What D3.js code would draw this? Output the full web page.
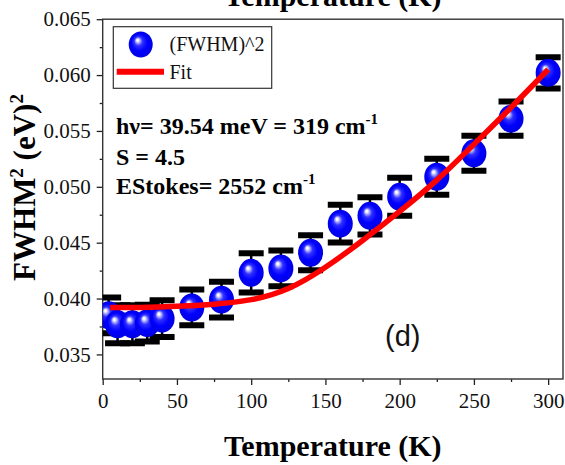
<!DOCTYPE html>
<html>
<head>
<meta charset="utf-8">
<script src="https://cdn.jsdelivr.net/npm/d3@7"></script>
<style>
  html, body { margin: 0; padding: 0; background: #fff; }
  svg { display: block; }
</style>
</head>
<body>
<div id="chart"></div>
<script>
// measured points: temperature (K), FWHM^2 (eV^2) and error bar half-height
const temps = [4, 10, 20, 30, 40, 60, 80, 100, 120, 140, 160, 180, 200, 225, 250, 275, 300];
const fwhm2 = [0.0385, 0.0377, 0.0377, 0.0378, 0.0382, 0.0392, 0.0399, 0.0423, 0.0427, 0.0441, 0.0467, 0.0474, 0.0491, 0.0509, 0.0530, 0.0561, 0.0602];
const fwhm2Err = [0.0016, 0.0017, 0.0017, 0.00165, 0.00165, 0.0016, 0.0016, 0.00175, 0.0016, 0.00157, 0.00169, 0.00166, 0.0017, 0.0016, 0.00156, 0.00153, 0.0014];

// fit curve
const fitTemps = [5, 25, 50, 75, 100, 125, 150, 175, 200, 225, 250, 275, 300];
const fitValues = [0.0392, 0.0392, 0.0393, 0.0395, 0.0399, 0.0409, 0.0428, 0.0452, 0.0478, 0.0506, 0.0538, 0.0571, 0.0605];

const xTicks = [0, 50, 100, 150, 200, 250, 300];
const yTicks = [0.035, 0.040, 0.045, 0.050, 0.055, 0.060, 0.065];

const legendLabels = ['(FWHM)^2', 'Fit'];
const annotations = [
  {text: 'h\u03bd= 39.54 meV = 319 cm', sup: '-1'},
  {text: 'S = 4.5', sup: ''},
  {text: 'EStokes= 2552 cm', sup: '-1'}
];
const panelLabel = '(d)';
const xTitle = 'Temperature (K)';

const width = 565, height = 465;
const margin = {top: 19.2, right: 2, bottom: 86, left: 102.7};
const serif = '"Liberation Serif", "Times New Roman", serif';

const svg = d3.select('#chart').append('svg')
  .attr('width', width)
  .attr('height', height);

const defs = svg.append('defs');
const grad = defs.append('radialGradient')
  .attr('id', 'ball')
  .attr('cx', '50%').attr('cy', '50%').attr('r', '55%')
  .attr('fx', '36%').attr('fy', '32%');
[[0, '#ffffff'], [0.08, '#f4f4ff'], [0.18, '#a0a0ff'], [0.32, '#3030ff'], [0.6, '#0000ff'], [1, '#0000dd']]
  .forEach(([o, c]) => grad.append('stop').attr('offset', o).attr('stop-color', c));

defs.append('clipPath').attr('id', 'plotclip')
  .append('rect')
  .attr('x', margin.left).attr('y', margin.top)
  .attr('width', width - margin.left - margin.right)
  .attr('height', height - margin.top - margin.bottom);

const x = d3.scaleLinear().domain([0, 310]).range([margin.left, width - margin.right]);
const y = d3.scaleLinear().domain([0.0328, 0.065]).range([height - margin.bottom, margin.top]);

// minor ticks
const xMinor = d3.range(25, 310, 50);
const yMinor = d3.range(0.0375, 0.065, 0.005);

svg.append('g')
  .attr('transform', `translate(0,${height - margin.bottom})`)
  .call(d3.axisBottom(x).tickValues(xMinor).tickSize(3).tickFormat(''))
  .call(g => g.select('.domain').remove());
svg.append('g')
  .attr('transform', `translate(${margin.left},0)`)
  .call(d3.axisLeft(y).tickValues(yMinor).tickSize(3).tickFormat(''))
  .call(g => g.select('.domain').remove());

const xAxis = svg.append('g')
  .attr('transform', `translate(0,${height - margin.bottom})`)
  .call(d3.axisBottom(x).tickValues(xTicks).tickSize(6).tickPadding(8).tickFormat(d3.format('d')));
xAxis.select('.domain').remove();

const yAxis = svg.append('g')
  .attr('transform', `translate(${margin.left},0)`)
  .call(d3.axisLeft(y).tickValues(yTicks).tickSize(6).tickPadding(6).tickFormat(d3.format('.3f')));
yAxis.select('.domain').remove();

svg.selectAll('.tick line').attr('stroke', '#222').attr('stroke-width', 1.3);
svg.selectAll('.tick text')
  .style('font-family', serif)
  .style('font-size', '21px')
  .attr('fill', '#111');

// frame
svg.append('rect')
  .attr('x', margin.left).attr('y', margin.top)
  .attr('width', width - margin.left - margin.right)
  .attr('height', height - margin.top - margin.bottom)
  .attr('fill', 'none')
  .attr('stroke', '#333')
  .attr('stroke-width', 1.4);

const points = temps.map((t, i) => ({t, v: fwhm2[i], e: fwhm2Err[i]}));
const plot = svg.append('g').attr('clip-path', 'url(#plotclip)');

// error bars
const eb = plot.append('g').selectAll('g').data(points).enter().append('g');
eb.append('line')
  .attr('x1', d => x(d.t)).attr('x2', d => x(d.t))
  .attr('y1', d => y(d.v + d.e)).attr('y2', d => y(d.v - d.e))
  .attr('stroke', '#000').attr('stroke-width', 2.5);
eb.selectAll('.cap')
  .data(d => [d.v + d.e, d.v - d.e].map(v => ({t: d.t, v})))
  .enter().append('line')
  .attr('x1', d => x(d.t) - 12.5).attr('x2', d => x(d.t) + 12.5)
  .attr('y1', d => y(d.v)).attr('y2', d => y(d.v))
  .attr('stroke', '#000').attr('stroke-width', 6);

// spheres
plot.append('g').selectAll('ellipse').data(points).enter().append('ellipse')
  .attr('cx', d => x(d.t)).attr('cy', d => y(d.v))
  .attr('rx', 12.5).attr('ry', 14)
  .attr('fill', 'url(#ball)');

// fit line
const line = d3.line()
  .x(d => x(d[0]))
  .y(d => y(d[1]))
  .curve(d3.curveNatural);
plot.append('path')
  .datum(fitTemps.map((t, i) => [t, fitValues[i]]))
  .attr('d', line)
  .attr('fill', 'none')
  .attr('stroke', '#ff0000')
  .attr('stroke-width', 5.5)
  .attr('stroke-linecap', 'butt');

// legend
const lg = svg.append('g');
lg.append('rect')
  .attr('x', 113.3).attr('y', 26.7).attr('width', 158.4).attr('height', 61.6)
  .attr('fill', '#fff').attr('stroke', '#333').attr('stroke-width', 1.2);
lg.append('ellipse')
  .attr('cx', 140.7).attr('cy', 44.5).attr('rx', 12).attr('ry', 13)
  .attr('fill', 'url(#ball)');
lg.append('line')
  .attr('x1', 116.7).attr('x2', 164).attr('y1', 71.7).attr('y2', 71.7)
  .attr('stroke', '#ff0000').attr('stroke-width', 6);
lg.selectAll('text').data(legendLabels).enter().append('text')
  .attr('x', 169.5)
  .attr('y', (d, i) => 51 + i * 27.5)
  .style('font-family', serif)
  .style('font-size', '20px')
  .attr('fill', '#111')
  .text(d => d);

// annotation block
const ann = svg.append('g')
  .style('font-family', serif)
  .style('font-weight', 'bold')
  .attr('fill', '#000');
annotations.forEach((a, i) => {
  const t = ann.append('text')
    .attr('x', 116)
    .attr('y', [133.5, 164.5, 193.5][i])
    .style('font-size', '24px');
  t.append('tspan').text(a.text);
  if (a.sup) {
    t.append('tspan').attr('dy', -10).style('font-size', '15px').text(a.sup);
  }
});

// panel label
svg.append('text')
  .attr('x', 385).attr('y', 345.5)
  .style('font-family', '"Liberation Sans", Arial, sans-serif')
  .style('font-size', '29px')
  .attr('fill', '#111')
  .text(panelLabel);

// y title
const yt = svg.append('text')
  .attr('transform', `translate(35,${187.5}) rotate(-90)`)
  .attr('text-anchor', 'middle')
  .style('font-family', serif)
  .style('font-weight', 'bold')
  .style('font-size', '31px')
  .attr('fill', '#000');
yt.append('tspan').text('FWHM');
yt.append('tspan').attr('dy', -12).style('font-size', '19px').text('2');
yt.append('tspan').attr('dy', 12).text(' (eV)');
yt.append('tspan').attr('dy', -12).style('font-size', '19px').text('2');

// x title (bottom) and the clipped one from the panel above
const cx = (margin.left + width - margin.right) / 2;
[456, 6].forEach(yy => {
  svg.append('text')
    .attr('x', cx).attr('y', yy)
    .attr('text-anchor', 'middle')
    .style('font-family', serif)
    .style('font-weight', 'bold')
    .style('font-size', '30px')
    .attr('fill', '#000')
    .text(xTitle);
});
</script>
</body>
</html>
